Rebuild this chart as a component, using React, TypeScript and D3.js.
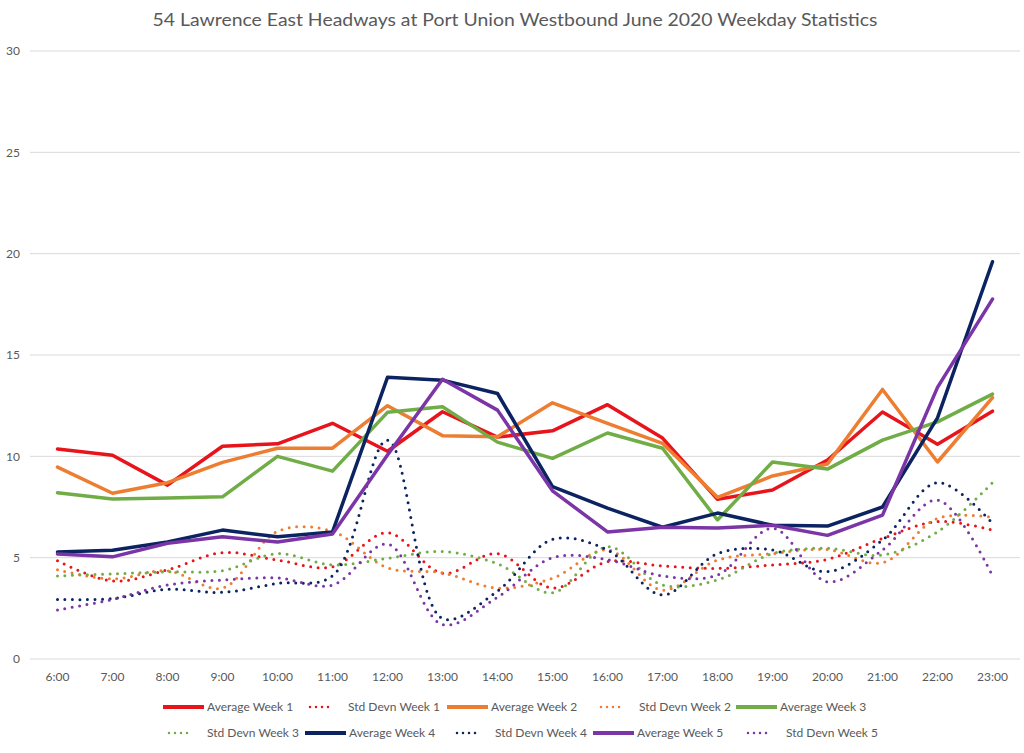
import React, { useEffect } from 'react';
import * as d3 from 'd3';

const hours = ['6:00', '7:00', '8:00', '9:00', '10:00', '11:00', '12:00', '13:00', '14:00', '15:00', '16:00', '17:00', '18:00', '19:00', '20:00', '21:00', '22:00', '23:00'];

const avgWeek1 = [10.36, 10.05, 8.58, 10.5, 10.62, 11.63, 10.25, 12.2, 10.95, 11.26, 12.55, 10.9, 7.88, 8.34, 9.82, 12.19, 10.6, 12.23];
const sdWeek1 = [4.85, 3.85, 4.4, 5.25, 4.88, 4.55, 6.23, 4.23, 5.2, 3.5, 4.8, 4.59, 4.47, 4.64, 4.92, 5.95, 6.78, 6.36];
const avgWeek2 = [9.47, 8.18, 8.7, 9.7, 10.4, 10.4, 12.5, 11.02, 10.97, 12.64, 11.63, 10.64, 7.98, 9.03, 9.62, 13.3, 9.72, 12.9];
const sdWeek2 = [4.4, 3.95, 4.35, 3.5, 6.3, 6.3, 4.5, 4.25, 3.5, 3.98, 5.38, 3.4, 4.88, 5.2, 5.4, 4.75, 6.94, 6.99];
const avgWeek3 = [8.2, 7.9, 7.95, 8.0, 10.0, 9.27, 12.17, 12.45, 10.7, 9.9, 11.15, 10.4, 6.86, 9.72, 9.37, 10.8, 11.7, 13.07];
const sdWeek3 = [4.1, 4.2, 4.3, 4.36, 5.2, 4.64, 4.97, 5.3, 4.7, 3.27, 5.54, 3.65, 3.9, 5.2, 5.46, 5.13, 6.28, 8.7];
const avgWeek4 = [5.28, 5.37, 5.77, 6.36, 6.03, 6.27, 13.9, 13.76, 13.1, 8.5, 7.44, 6.5, 7.2, 6.6, 6.56, 7.5, 11.9, 19.6];
const sdWeek4 = [2.94, 2.98, 3.44, 3.29, 3.73, 4.1, 10.8, 2.0, 3.35, 5.9, 5.38, 3.16, 5.2, 5.38, 4.31, 5.87, 8.7, 6.7];
const avgWeek5 = [5.18, 5.04, 5.71, 6.03, 5.77, 6.17, 10.06, 13.8, 12.28, 8.3, 6.27, 6.5, 6.46, 6.6, 6.1, 7.1, 13.4, 17.76];
const sdWeek5 = [2.42, 2.94, 3.65, 3.9, 4.0, 3.65, 5.67, 1.7, 3.05, 5.0, 4.9, 4.1, 4.15, 6.45, 3.81, 5.38, 7.84, 4.1];

const yTicks = [0, 5, 10, 15, 20, 25, 30];

const series = [
  { name: 'Average Week 1', values: avgWeek1, color: '#e8141b', dotted: false },
  { name: 'Std Devn Week 1', values: sdWeek1, color: '#e8141b', dotted: true },
  { name: 'Average Week 2', values: avgWeek2, color: '#ed7d31', dotted: false },
  { name: 'Std Devn Week 2', values: sdWeek2, color: '#ed7d31', dotted: true },
  { name: 'Average Week 3', values: avgWeek3, color: '#70ad47', dotted: false },
  { name: 'Std Devn Week 3', values: sdWeek3, color: '#70ad47', dotted: true },
  { name: 'Average Week 4', values: avgWeek4, color: '#0b2360', dotted: false },
  { name: 'Std Devn Week 4', values: sdWeek4, color: '#0b2360', dotted: true },
  { name: 'Average Week 5', values: avgWeek5, color: '#7b35a6', dotted: false },
  { name: 'Std Devn Week 5', values: sdWeek5, color: '#7b35a6', dotted: true },
];

const W = 1024;
const H = 753;
const plot = { left: 30, right: 1020, top: 51, bottom: 659 };
const font = 'Lato, "Open Sans", sans-serif';
const textColor = '#595959';

// legend rows: start x of each entry, five per row
const legendRows = [
  { y: 707, xs: [163, 304, 447, 595, 736] },
  { y: 733, xs: [163, 305, 451, 593, 742] },
];

const App: React.FC = () => {
  useEffect(() => {
    document.body.style.margin = '0';
  }, []);

  const x = d3.scalePoint<string>().domain(hours).range([plot.left, plot.right]).padding(0.5);
  const y = d3.scaleLinear().domain([0, 30]).range([plot.bottom, plot.top]);

  const straight = d3.line<number>()
    .x((_, i) => x(hours[i]) as number)
    .y((d) => y(d));
  const smooth = d3.line<number>()
    .x((_, i) => x(hours[i]) as number)
    .y((d) => y(d))
    .curve(d3.curveCatmullRom.alpha(0.5));

  return (
    <svg width={W} height={H} style={{ position: 'absolute', left: 0, top: 0, background: '#fff' }} fontFamily={font}>
      <rect width={W} height={H} fill="#fff" />
      <text x={515} y={26} textAnchor="middle" fontSize={18} fill={textColor} textLength={725} lengthAdjust="spacingAndGlyphs">
        54 Lawrence East Headways at Port Union Westbound June 2020 Weekday Statistics
      </text>

      {/* gridlines + y labels */}
      {yTicks.map((t) => (
        <g key={t}>
          <line x1={plot.left} x2={plot.right} y1={y(t)} y2={y(t)} stroke="#d9d9d9" strokeWidth={1} />
          <text x={20} y={y(t)} dy="0.35em" textAnchor="end" fontSize={12} fill={textColor}>{t}</text>
        </g>
      ))}

      {/* x labels */}
      {hours.map((h) => (
        <text key={h} x={x(h)} y={681} textAnchor="middle" fontSize={12} fill={textColor}>{h}</text>
      ))}

      {/* series */}
      {series.map((s) => (
        <path
          key={s.name}
          d={(s.dotted ? smooth : straight)(s.values) || ''}
          fill="none"
          stroke={s.color}
          strokeWidth={s.dotted ? 3 : 3.5}
          strokeLinecap="round"
          strokeLinejoin="round"
          strokeDasharray={s.dotted ? '0 7.5' : undefined}
        />
      ))}

      {/* legend */}
      {series.map((s, i) => {
        const row = legendRows[Math.floor(i / 5)];
        const lx = row.xs[i % 5];
        return (
          <g key={'lg' + s.name} transform={`translate(${lx},${row.y})`}>
            {s.dotted ? (
              <line x1={6} x2={30} y1={0} y2={0} stroke={s.color} strokeWidth={2.5} strokeLinecap="round" strokeDasharray="0 6" />
            ) : (
              <line x1={0} x2={41} y1={0} y2={0} stroke={s.color} strokeWidth={4} />
            )}
            <text x={44} y={0} dy="0.35em" fontSize={12} fill={textColor}>{s.name}</text>
          </g>
        );
      })}
    </svg>
  );
};

export default App;
